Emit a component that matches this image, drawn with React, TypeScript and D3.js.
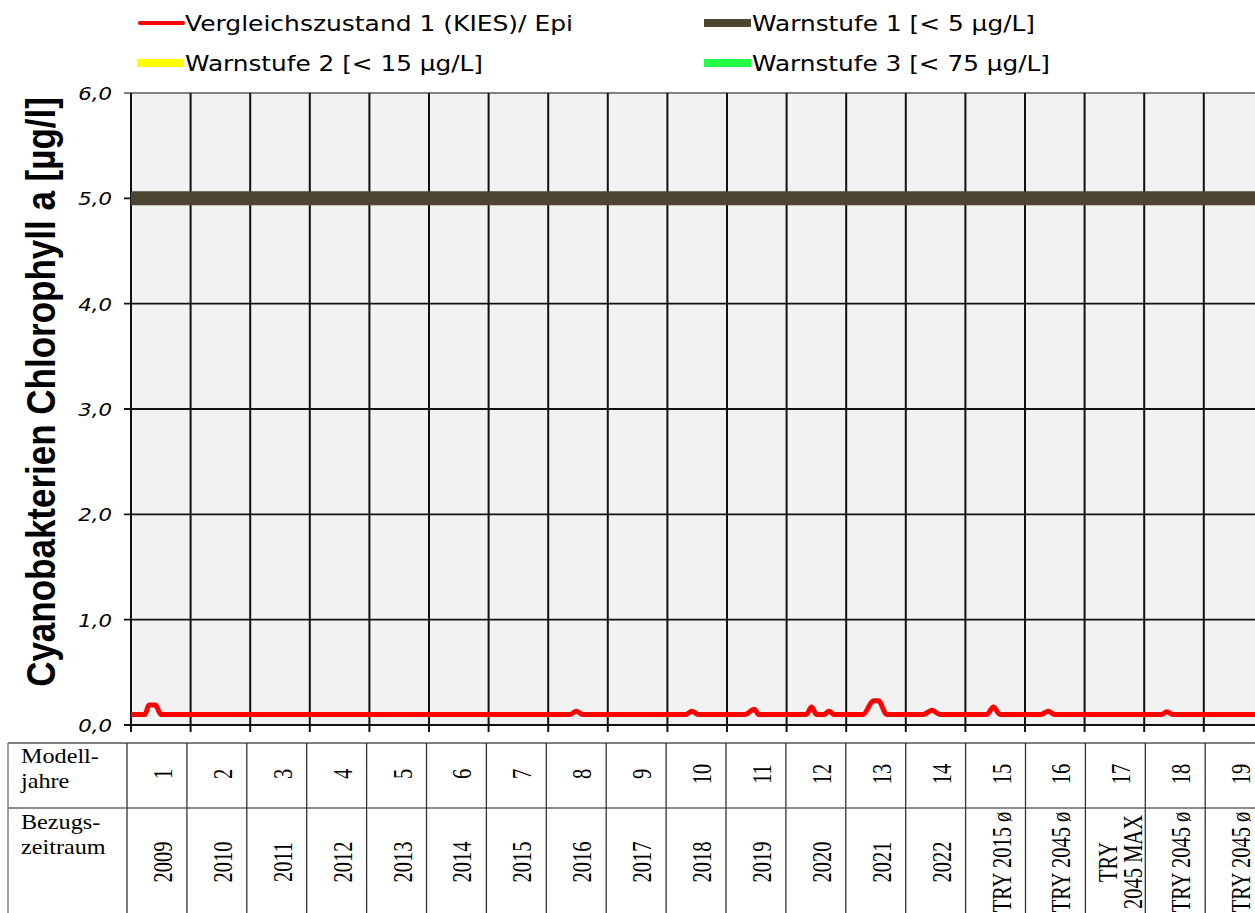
import React from "react";
import * as d3 from "d3";

// ---------- data ----------
const modelYears = ["1","2","3","4","5","6","7","8","9","10","11","12","13","14","15","16","17","18","19"];
const periods = ["2009","2010","2011","2012","2013","2014","2015","2016","2017","2018","2019","2020","2021","2022","TRY 2015 ø","TRY 2045 ø","TRY|2045 MAX","TRY 2045 ø","TRY 2045 ø"];
const yTicks = [0, 1, 2, 3, 4, 5, 6];

// red series breakpoints: position in model years (0..19) and value [µg/l]
const redT = [0, 0.235, 0.3, 0.41, 0.5, 7.37, 7.47, 7.58, 9.31, 9.41, 9.52, 10.3, 10.46, 10.53, 11.33, 11.42, 11.5, 11.63, 11.71, 11.8, 12.28, 12.46, 12.54, 12.68, 13.29, 13.44, 13.57, 14.36, 14.47, 14.58, 15.27, 15.39, 15.5, 17.29, 17.38, 17.48, 19];
const redV = [0.1, 0.1, 0.19, 0.19, 0.1, 0.1, 0.13, 0.1, 0.1, 0.13, 0.1, 0.1, 0.15, 0.1, 0.1, 0.17, 0.1, 0.1, 0.13, 0.1, 0.1, 0.23, 0.23, 0.1, 0.1, 0.14, 0.1, 0.1, 0.17, 0.1, 0.1, 0.13, 0.1, 0.1, 0.125, 0.1, 0.1];

const warnLevels = [5, 15, 75];
const legendLabels = ["Vergleichszustand 1 (KIES)/ Epi", "Warnstufe 1 [< 5 µg/L]", "Warnstufe 2 [< 15 µg/L]", "Warnstufe 3 [< 75 µg/L]"];
const legendColors = ["#ff0000", "#4b4532", "#ffff00", "#22ff44"];

export default function App() {
  const W = 1255, H = 913;
  const x = d3.scaleLinear().domain([0, 19]).range([131, 131 + 19 * 59.6]);
  const y = d3.scaleLinear().domain([0, 6]).range([725, 93]);
  const tx = (i: number) => 127 + 59.9 * i;
  const fmt = (v: number) => d3.format(".1f")(v).replace(".", ",");

  const redPts = redT.map((t, i) => [t, redV[i]] as [number, number]);
  const line = d3.line<[number, number]>().x(d => x(d[0])).y(d => y(d[1])).curve(d3.curveMonotoneX);

  const legendPos = [
    { lx1: 140, lx2: 183, ly: 23, tx: 185, ty: 31, tl: 388, sw: 4 },
    { lx1: 704, lx2: 751, ly: 23, tx: 752, ty: 31, tl: 283, sw: 8 },
    { lx1: 137, lx2: 184, ly: 63, tx: 185, ty: 71, tl: 298, sw: 8 },
    { lx1: 704, lx2: 751, ly: 63, tx: 752, ty: 71, tl: 298, sw: 8 },
  ];

  const sx = 1.18;
  const rsx = 1.3;
  const serif = "'Liberation Serif', 'Times New Roman', serif";

  return (
    <svg width={W} height={H} style={{ position: "absolute", left: 0, top: 0, background: "#fff" }}
      fontFamily="'DejaVu Sans', Verdana, sans-serif">
      {/* legend */}
      {legendLabels.map((lab, i) => {
        const p = legendPos[i];
        return (
          <g key={lab}>
            <line x1={p.lx1} x2={p.lx2} y1={p.ly} y2={p.ly} stroke={legendColors[i]} strokeWidth={p.sw} strokeLinecap={i === 0 ? "round" : "butt"} />
            <text x={p.tx} y={p.ty} fontSize={21} fill="#000" textLength={p.tl} lengthAdjust="spacingAndGlyphs">{lab}</text>
          </g>
        );
      })}

      {/* plot background */}
      <rect x={x(0)} y={y(6)} width={x(19) - x(0)} height={y(0) - y(6)} fill="#f2f2f2" />

      {/* horizontal grid */}
      {yTicks.map(v => (
        <line key={"h" + v} x1={124} x2={x(19)} y1={y(v)} y2={y(v)} stroke={v === 6 ? "#7f7f7f" : "#111"} strokeWidth={v === 6 ? 2 : 1.8} />
      ))}
      {/* vertical grid + ticks */}
      {modelYears.map((_, i) => (
        <line key={"v" + i} x1={x(i)} x2={x(i)} y1={y(6)} y2={732} stroke="#111" strokeWidth={2} />
      ))}

      {/* y tick labels */}
      {yTicks.map(v => (
        <text key={"yl" + v} transform={`translate(112,${y(v) + 7}) scale(1.18,1)`} textAnchor="end" fontSize={18} fontStyle="italic" fill="#000">{fmt(v)}</text>
      ))}

      {/* y title */}
      <text transform={`translate(55,392) scale(1.18,1) rotate(-90)`} textAnchor="middle" fontSize={35} fontWeight="bold"
        fontFamily="'Liberation Sans', Arial, sans-serif" fill="#000">Cyanobakterien Chlorophyll a [µg/l]</text>

      {/* warning levels */}
      <clipPath id="plotClip"><rect x={x(0)} y={y(6) - 10} width={x(19) - x(0)} height={y(0) - y(6) + 20} /></clipPath>
      <g clipPath="url(#plotClip)">
        {warnLevels.map((v, i) => (
          v <= 6 ? <line key={"w" + v} x1={x(0)} x2={x(19)} y1={y(v)} y2={y(v)} stroke={legendColors[i + 1]} strokeWidth={14} /> : null
        ))}
        <path d={line(redPts) || ""} fill="none" stroke="#ff0000" strokeWidth={5} strokeLinejoin="round" />
      </g>

      {/* table */}
      <line x1={8} x2={W} y1={743} y2={743} stroke="#7f7f7f" strokeWidth={2} />
      <line x1={8} x2={W} y1={808} y2={808} stroke="#1a1a1a" strokeWidth={1.2} />
      <line x1={8} x2={8} y1={743} y2={H} stroke="#7f7f7f" strokeWidth={1.5} />
      {modelYears.map((_, i) => (
        <line key={"tc" + i} x1={tx(i)} x2={tx(i)} y1={743} y2={H} stroke="#333" strokeWidth={1.3} />
      ))}
      <g fontFamily={serif} fontSize={20.5} fill="#000">
        <text transform={`translate(21,763) scale(${sx},1)`}>Modell-</text>
        <text transform={`translate(21,788) scale(${sx},1)`}>jahre</text>
        <text transform={`translate(21,829) scale(${sx},1)`}>Bezugs-</text>
        <text transform={`translate(21,854) scale(${sx},1)`}>zeitraum</text>
        {modelYears.map((m, i) => {
          const cx = (tx(i) + tx(i + 1)) / 2;
          return <text key={"m" + i} transform={`translate(${cx + 15},774) scale(${rsx},1) rotate(-90)`} textAnchor="middle">{m}</text>;
        })}
        {periods.map((p, i) => {
          const cx = (tx(i) + tx(i + 1)) / 2;
          const parts = p.split("|");
          if (parts.length === 1) {
            return <text key={"p" + i} transform={`translate(${cx + 15},862) scale(${rsx},1) rotate(-90)`} textAnchor="middle">{p}</text>;
          }
          return (
            <g key={"p" + i}>
              <text transform={`translate(${cx + 2},862) scale(${rsx},1) rotate(-90)`} textAnchor="middle">{parts[0]}</text>
              <text transform={`translate(${cx + 27},862) scale(${rsx},1) rotate(-90)`} textAnchor="middle">{parts[1]}</text>
            </g>
          );
        })}
      </g>
    </svg>
  );
}
